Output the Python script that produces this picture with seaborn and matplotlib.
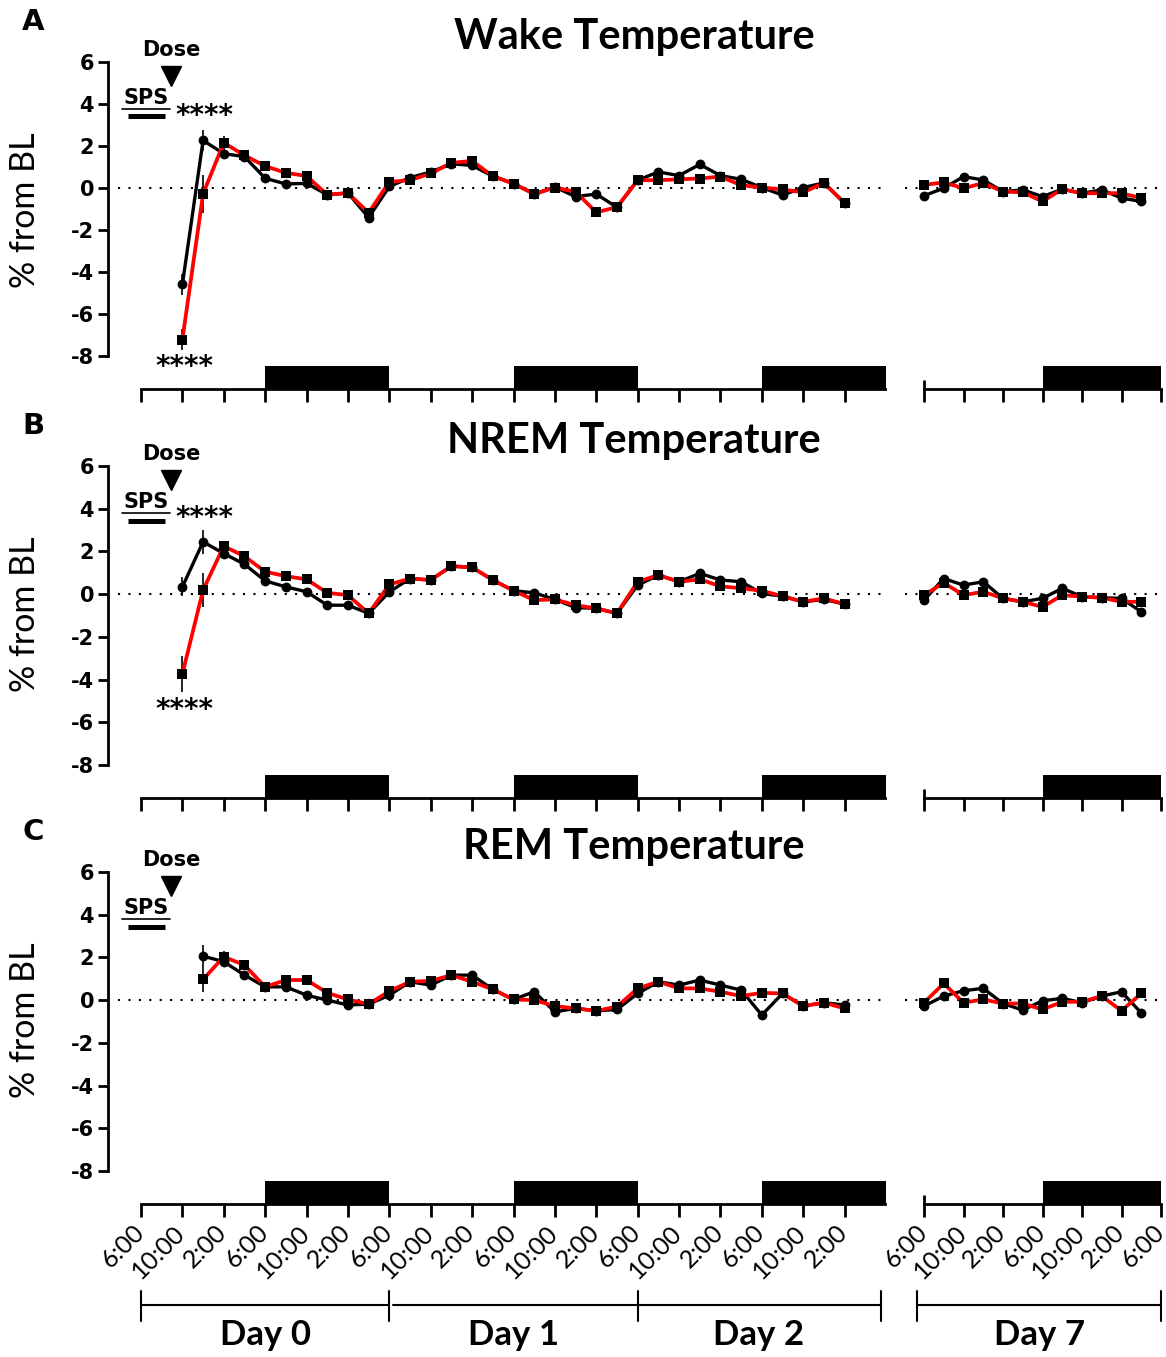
import numpy as np
import pandas as pd
import matplotlib
matplotlib.use("Agg")
import matplotlib.pyplot as plt
import seaborn as sns
from matplotlib.transforms import blended_transform_factory, ScaledTranslation

# ---------------- data ----------------
nan = np.nan
hours_d012 = list(range(4, 70, 2))      # Day 0-2, hours after 6:00 on Day 0
hours_d7 = list(range(0, 24, 2))        # Day 7, hours after 6:00

wake_black_d012 = [-4.58, 2.27, 1.64, 1.5, 0.47, 0.2, 0.23, -0.31, -0.23, -1.4,
                   0.08, 0.5, 0.77, 1.16, 1.08, 0.57, 0.22, -0.28, 0.05, -0.4,
                   -0.28, -0.91, 0.38, 0.77, 0.6, 1.13, 0.6, 0.42, 0.03, -0.33,
                   0.03, 0.25, -0.7]
wake_red_d012 = [-7.2, -0.27, 2.16, 1.56, 1.05, 0.73, 0.58, -0.31, -0.23, -1.17,
                 0.3, 0.38, 0.7, 1.2, 1.3, 0.57, 0.22, -0.28, 0.03, -0.17,
                 -1.15, -0.9, 0.38, 0.38, 0.42, 0.46, 0.55, 0.14, 0.03, -0.06,
                 -0.2, 0.25, -0.72]
wake_black_d7 = [-0.36, 0.0, 0.55, 0.39, -0.16, -0.08, -0.4, -0.05, -0.24, -0.08, -0.47, -0.63]
wake_red_d7 = [0.16, 0.27, 0.0, 0.24, -0.16, -0.2, -0.63, -0.05, -0.24, -0.24, -0.24, -0.47]

nrem_black_d012 = [0.34, 2.45, 1.9, 1.4, 0.62, 0.34, 0.11, -0.52, -0.52, -0.9,
                   0.1, 0.73, 0.66, 1.31, 1.25, 0.66, 0.16, 0.06, -0.25, -0.63,
                   -0.67, -0.9, 0.42, 0.89, 0.58, 0.97, 0.66, 0.58, 0.03, -0.1,
                   -0.36, -0.25, -0.47]
nrem_red_d012 = [-3.74, 0.19, 2.25, 1.77, 1.05, 0.84, 0.69, 0.06, -0.05, -0.9,
                 0.45, 0.73, 0.66, 1.31, 1.25, 0.66, 0.16, -0.28, -0.25, -0.52,
                 -0.67, -0.9, 0.58, 0.89, 0.58, 0.69, 0.37, 0.27, 0.16, -0.1,
                 -0.36, -0.2, -0.47]
nrem_black_d7 = [-0.28, 0.73, 0.42, 0.58, -0.2, -0.36, -0.2, 0.27, -0.12, -0.17, -0.2, -0.83]
nrem_red_d7 = [-0.05, 0.53, -0.05, 0.11, -0.2, -0.36, -0.6, -0.05, -0.12, -0.17, -0.36, -0.36]

rem_black_d012 = [nan, 2.06, 1.8, 1.17, 0.62, 0.62, 0.23, 0.0, -0.23, -0.19,
                  0.23, 0.86, 0.7, 1.17, 1.17, 0.5, 0.03, 0.39, -0.55, -0.39,
                  -0.5, -0.44, 0.31, 0.86, 0.7, 0.94, 0.7, 0.47, -0.7, 0.31,
                  -0.28, -0.12, -0.23]
rem_red_d012 = [nan, 0.97, 2.03, 1.64, 0.62, 0.94, 0.94, 0.34, 0.03, -0.19,
                0.42, 0.86, 0.9, 1.17, 0.86, 0.5, 0.03, 0.0, -0.28, -0.39,
                -0.5, -0.31, 0.55, 0.86, 0.55, 0.55, 0.39, 0.19, 0.34, 0.31,
                -0.28, -0.12, -0.39]
rem_black_d7 = [-0.28, 0.19, 0.44, 0.55, -0.16, -0.47, -0.03, 0.08, -0.12, 0.19, 0.39, -0.6]
rem_red_d7 = [-0.12, 0.78, -0.12, 0.03, -0.16, -0.16, -0.44, -0.08, -0.08, 0.19, -0.5, 0.31]

# visible SEM bars (early time points, hours 4, 6, 8)
err_hours = [4, 6, 8]
wake_black_err = [0.5, 0.5, 0.2]
wake_red_err = [0.5, 0.9, 0.3]
nrem_black_err = [0.45, 0.55, 0.2]
nrem_red_err = [0.85, 0.8, 0.25]
rem_black_err = [0.0, 0.5, 0.25]
rem_red_err = [0.0, 0.6, 0.25]

dark_d012 = [(12, 24), (36, 48), (60, 72)]
dark_d7 = [(12, 24)]

ticks_d012 = list(range(0, 72, 4))
ticklabels_d012 = ["6:00", "10:00", "2:00"] * 6
ticks_d7 = list(range(0, 25, 4))
ticklabels_d7 = ["6:00", "10:00", "2:00", "6:00", "10:00", "2:00", "6:00"]

day_labels = ["Day 0", "Day 1", "Day 2", "Day 7"]
titles = ["Wake Temperature", "NREM Temperature", "REM Temperature"]
panel_letters = ["A", "B", "C"]
yticks = list(range(-8, 7, 2))

# ---------------- style ----------------
sns.set_theme(style="white")
plt.rcParams['font.family'] = ['DejaVu Sans']
plt.rcParams['axes.linewidth'] = 2
for k in ("text.color", "axes.labelcolor", "xtick.color", "ytick.color", "axes.edgecolor"):
    plt.rcParams[k] = "black"

W, H = 1166, 1357
fig = plt.figure(figsize=(W / 100, H / 100), dpi=100)


def fx(px):
    return px / W


def fy(px):
    return 1 - px / H


YMIN, YMAX = -9.55, 6
BAR_TOP = -8.45
LX0, LX1 = 108, 886        # left axes pixel extent
RX0, RX1 = 904, 1163       # right axes pixel extent
L_PPH = (886 - 141) / 72.0
R_PPH = (1161 - 924) / 24.0
CAL = ["Lato", "DejaVu Sans"]

panels = [
    dict(top=62, bottom=389, data=(wake_black_d012, wake_red_d012, wake_black_d7, wake_red_d7),
         err=(wake_black_err, wake_red_err), stars=(3.45, -8.5)),
    dict(top=466, bottom=798, data=(nrem_black_d012, nrem_red_d012, nrem_black_d7, nrem_red_d7),
         err=(nrem_black_err, nrem_red_err), stars=(3.55, -5.45)),
    dict(top=872, bottom=1204, data=(rem_black_d012, rem_red_d012, rem_black_d7, rem_red_d7),
         err=(rem_black_err, rem_red_err), stars=None),
]


def draw_series(ax, hours, black, red):
    df = pd.DataFrame({"hour": hours * 2,
                       "value": list(black) + list(red),
                       "group": ["black"] * len(hours) + ["red"] * len(hours)})
    db = df[df.group == "black"]
    dr = df[df.group == "red"]
    sns.lineplot(data=db, x="hour", y="value", color="black", lw=2.4,
                 estimator=None, sort=False, ax=ax, zorder=3, legend=False)
    sns.lineplot(data=dr, x="hour", y="value", color="#ff0000", lw=2.7,
                 estimator=None, sort=False, ax=ax, zorder=4, legend=False)
    sns.scatterplot(data=db, x="hour", y="value", color="black", marker="o", s=50,
                    linewidth=0, ax=ax, zorder=5, legend=False)
    sns.scatterplot(data=dr, x="hour", y="value", color="black", marker="s", s=58,
                    linewidth=0, ax=ax, zorder=6, legend=False)


axes_c = None
for i, p in enumerate(panels):
    h = (p["bottom"] - p["top"]) / H
    axL = fig.add_axes([fx(LX0), fy(p["bottom"]), (LX1 - LX0) / W, h])
    axR = fig.add_axes([fx(RX0), fy(p["bottom"]), (RX1 - RX0) / W, h])

    bL, rL, bR, rR = p["data"]
    draw_series(axL, hours_d012, bL, rL)
    draw_series(axR, hours_d7, bR, rR)

    axL.set_xlim((LX0 - 141) / L_PPH, (LX1 - 141) / L_PPH)
    axR.set_xlim((RX0 - 924) / R_PPH, (RX1 - 924) / R_PPH)
    for ax in (axL, axR):
        ax.set_ylim(YMIN, YMAX)
        ax.set_facecolor("none")
        for s in ("top", "right"):
            ax.spines[s].set_visible(False)
        ax.spines["bottom"].set_linewidth(2)
        ax.spines["bottom"].set_color("black")
    axL.plot([-2.2, 72], [0, 0], color="black", lw=1.5, ls=(0, (1, 4)), zorder=1)
    axR.plot([-1.9, 24], [0, 0], color="black", lw=1.5, ls=(0, (1, 4)), zorder=1)

    # error bars
    eb, er = p["err"]
    idx = [hours_d012.index(hh) for hh in err_hours]
    axL.errorbar(err_hours, [bL[k] for k in idx], yerr=eb, fmt="none", ecolor="black",
                 elinewidth=1.2, capsize=0, zorder=2)
    axL.errorbar(err_hours, [rL[k] for k in idx], yerr=er, fmt="none", ecolor="black",
                 elinewidth=1.2, capsize=0, zorder=2)

    # dark phase bars
    for a, b in dark_d012:
        axL.fill_between([a, b], YMIN, BAR_TOP, color="black", lw=0, zorder=2)
    for a, b in dark_d7:
        axR.fill_between([a, b], YMIN, BAR_TOP, color="black", lw=0, zorder=2)

    # axes spines / ticks
    axL.spines["left"].set_bounds(-8, 6)
    axL.spines["left"].set_linewidth(2)
    axL.spines["left"].set_color("black")
    axL.spines["bottom"].set_bounds(0, 71.9)
    axR.spines["left"].set_visible(False)
    axR.spines["bottom"].set_bounds(0, 24)
    axL.set_yticks(yticks)
    axL.set_yticklabels([str(t) for t in yticks], fontsize=15, fontweight="bold")
    axL.tick_params(axis="y", direction="out", length=7, width=2, pad=3, left=True,
                    color="black", labelcolor="black")
    axR.set_yticks([])
    axL.set_xticks(ticks_d012)
    axR.set_xticks(ticks_d7)
    for ax in (axL, axR):
        ax.tick_params(axis="x", direction="out", length=9, width=2, bottom=True, pad=3,
                       color="black", labelcolor="black")
    # break marker on day-7 axis
    axR.plot([0, 0], [0, 0.028], transform=axR.get_xaxis_transform(), color="black",
             lw=2, clip_on=False, solid_capstyle="butt")

    if i < 2:
        axL.set_xticklabels([])
        axR.set_xticklabels([])
    else:
        off = ScaledTranslation(-9 / 100, 0, fig.dpi_scale_trans)
        for ax, labs in ((axL, ticklabels_d012), (axR, ticklabels_d7)):
            ax.set_xticklabels(labs, rotation=45, ha="right", va="top",
                               rotation_mode="anchor", family=CAL, fontsize=18)
            for lab in ax.get_xticklabels():
                lab.set_transform(lab.get_transform() + off)
        axes_c = (axL, axR)

    for ax in (axL, axR):
        ax.set_xlabel("")
        ax.set_ylabel("")

    # annotations: Dose / SPS / stars
    axL.text(2.9, 6.55, "Dose", ha="center", va="center", fontsize=15, fontweight="bold",
             color="black")
    axL.plot([2.9], [5.35], marker="v", ms=14, color="black", clip_on=False, zorder=7)
    axL.text(0.5, 4.3, "SPS", ha="center", va="center", fontsize=15, fontweight="bold",
             color="black")
    axL.plot([-1.85, 2.85], [3.78, 3.78], color="black", lw=1.2, clip_on=False)
    axL.plot([-1.3, 2.35], [3.43, 3.43], color="black", lw=3.6, clip_on=False,
             solid_capstyle="butt")
    if p["stars"] is not None:
        axL.text(6.1, p["stars"][0], "****", ha="center", va="center", fontsize=20,
                 fontweight="bold", color="black")
        axL.text(4.2, p["stars"][1], "****", ha="center", va="center", fontsize=20,
                 fontweight="bold", color="black")

    # titles, letters, y labels
    ymid = p["top"] + (358 - 62) / 2.0
    fig.text(fx(634), fy(p["top"] - 25), titles[i], ha="center", va="center", fontsize=30,
             fontweight="bold", family=CAL, color="black")
    fig.text(fx(33), fy(p["top"] - 40), panel_letters[i], ha="center", va="center",
             fontsize=21, fontweight="bold", color="black")
    fig.text(fx(25), fy(ymid), "% from BL", ha="center", va="center", rotation=90,
             fontsize=24.5, family=CAL, color="black")

# day brackets
axL, axR = axes_c
tL = blended_transform_factory(axL.transData, fig.transFigure)
tR = blended_transform_factory(axR.transData, fig.transFigure)
yb, yt0, yt1 = fy(1305), fy(1291), fy(1321)
brackets_L = [(0, 24), (24.4, 48), (48, 71.5)]
for a, b in brackets_L:
    axL.plot([a, b], [yb, yb], transform=tL, color="black", lw=1.5, clip_on=False)
for xv in (0, 24, 48, 71.5):
    axL.plot([xv, xv], [yt0, yt1], transform=tL, color="black", lw=1.5, clip_on=False)
axR.plot([-0.7, 24], [yb, yb], transform=tR, color="black", lw=1.5, clip_on=False)
for xv in (-0.7, 24):
    axR.plot([xv, xv], [yt0, yt1], transform=tR, color="black", lw=1.5, clip_on=False)

for lab, xv in zip(day_labels[:3], [12, 36, 59.7]):
    axL.text(xv, fy(1335), lab, transform=tL, ha="center", va="center", fontsize=25,
             fontweight="bold", family=CAL, color="black")
axR.text(11.65, fy(1335), day_labels[3], transform=tR, ha="center", va="center", fontsize=25,
         fontweight="bold", family=CAL, color="black")

fig.savefig("out.png", dpi=100)
